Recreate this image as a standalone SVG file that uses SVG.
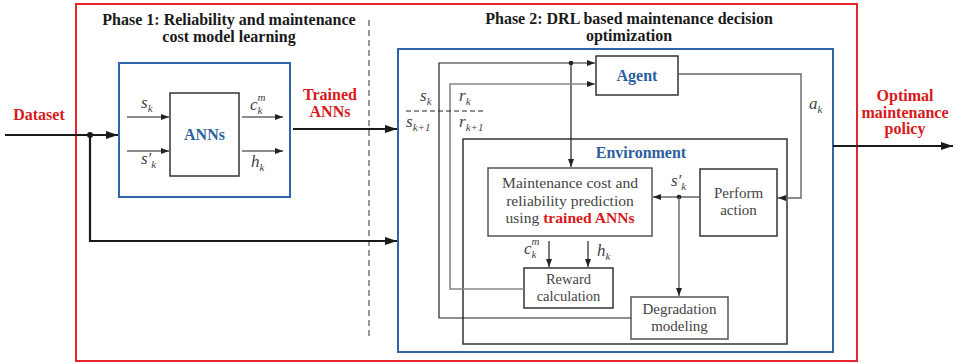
<svg xmlns="http://www.w3.org/2000/svg" width="954" height="363" viewBox="0 0 954 363">
<style>
.title{font-family:"Liberation Serif","DejaVu Serif",serif;font-weight:bold;font-size:16px;fill:#1a1a1a;text-anchor:middle}
.red{font-family:"Liberation Serif","DejaVu Serif",serif;font-weight:bold;font-size:16px;fill:#d71920;text-anchor:middle}
.blue{font-family:"Liberation Serif","DejaVu Serif",serif;font-weight:bold;font-size:16px;fill:#2d5f9e;text-anchor:middle}
.txt{font-family:"Liberation Serif","DejaVu Serif",serif;font-size:15px;fill:#444;text-anchor:middle}
.big{font-size:15.6px}
.sm{font-size:14.5px}
.math{font-family:"Liberation Serif","DejaVu Serif",serif;font-style:italic;font-size:17px;fill:#444}
.sub{font-size:11px}
.box{fill:#fff;stroke:#333;stroke-width:1.5}
.gbox{fill:#fff;stroke:#555;stroke-width:1.5}
.thick{fill:none;stroke:#1a1a1a;stroke-width:2.2}
.thin{fill:none;stroke:#222;stroke-width:1.2}
.gray{fill:none;stroke:#888;stroke-width:1.6}
.mid{fill:none;stroke:#666;stroke-width:1.4}
</style>
<defs>
<marker id="aBig" markerUnits="userSpaceOnUse" markerWidth="12" markerHeight="8" refX="12" refY="4" orient="auto"><path d="M0,0 L12,4 L0,8 z" fill="#1a1a1a"/></marker>
<marker id="aSm" markerUnits="userSpaceOnUse" markerWidth="8" markerHeight="6" refX="8" refY="3" orient="auto"><path d="M0,0 L8,3 L0,6 z" fill="#222"/></marker>
</defs>

<rect x="76" y="4" width="781" height="357" fill="none" stroke="#e8252c" stroke-width="2"/>
<line x1="369" y1="20" x2="369" y2="336" stroke="#555" stroke-width="1.2" stroke-dasharray="6,4"/>

<g id="phase1-title">
<text class="title" x="229" y="25">Phase 1: Reliability and maintenance</text>
<text class="title" x="229" y="42">cost model learning</text>
</g>
<g id="phase2-title">
<text class="title" x="629" y="24">Phase 2: DRL based maintenance decision</text>
<text class="title" x="629" y="41">optimization</text>
</g>

<g id="dataset"><text class="red" x="39" y="120">Dataset</text></g>
<g id="trained-label"><text class="red" x="330" y="100">Trained</text><text class="red" x="330" y="117">ANNs</text></g>
<g id="policy"><text class="red" x="905" y="101">Optimal</text><text class="red" x="905" y="118">maintenance</text><text class="red" x="905" y="134">policy</text></g>

<g id="phase1">
<rect x="119" y="63" width="171" height="134" fill="#fff" stroke="#2e64a8" stroke-width="2"/>
</g>
<g id="anns">
<rect x="170" y="93" width="69" height="83" class="box"/>
<text class="blue" x="204.5" y="140">ANNs</text>
</g>

<g id="phase2">
<rect x="398" y="49" width="435" height="303" fill="#fff" stroke="#2e64a8" stroke-width="2"/>
</g>
<g id="environment">
<rect x="463" y="139" width="324" height="205" fill="none" stroke="#333" stroke-width="1.5"/>
<text class="blue" x="641" y="158">Environment</text>
</g>
<g id="agent">
<rect x="596" y="56" width="82" height="39" class="box"/>
<text class="blue" x="637" y="81">Agent</text>
</g>
<g id="prediction">
<rect x="488" y="168" width="164" height="68" class="gbox"/>
<text class="txt big" x="570" y="188">Maintenance cost and</text>
<text class="txt big" x="570" y="205.5">reliability prediction</text>
<text class="txt big" x="570" y="223">using <tspan style="fill:#d71920;font-weight:bold">trained ANNs</tspan></text>
</g>
<g id="perform">
<rect x="700" y="169" width="77" height="67" class="box"/>
<text class="txt" x="738.5" y="198">Perform</text>
<text class="txt" x="738.5" y="215">action</text>
</g>
<g id="reward">
<rect x="524" y="268" width="89" height="40" class="box"/>
<text class="txt sm" x="568.5" y="284">Reward</text>
<text class="txt sm" x="568.5" y="300.5">calculation</text>
</g>
<g id="degradation">
<rect x="631" y="297" width="97" height="42" class="gbox"/>
<text class="txt" x="679.5" y="314">Degradation</text>
<text class="txt" x="679.5" y="331">modeling</text>
</g>

<g id="connectors">
<path class="thick" d="M5,135 H118" marker-end="url(#aBig)"/>
<path class="thick" d="M90,135 V241 H397" marker-end="url(#aBig)"/>
<circle cx="90" cy="135" r="3" fill="#1a1a1a"/>
<path class="thick" d="M293,129 H397" marker-end="url(#aBig)"/>
<path class="thick" d="M833,146 H953" marker-end="url(#aBig)"/>
<path class="mid" d="M127,117 H169" marker-end="url(#aSm)"/>
<path class="mid" d="M127,151 H169" marker-end="url(#aSm)"/>
<path class="mid" d="M242,117 H283" marker-end="url(#aSm)"/>
<path class="mid" d="M242,151 H283" marker-end="url(#aSm)"/>
<path class="thin" d="M631,318 H439 V63 H595" marker-end="url(#aSm)"/>
<circle cx="571" cy="63" r="2.3" fill="#222"/>
<path class="thin" d="M571,63 V167" marker-end="url(#aSm)"/>
<path class="gray" d="M524,289 H450 V84 H595" marker-end="url(#aSm)"/>
<path class="mid" d="M678,74 H801 V198 H778" marker-end="url(#aSm)"/>
<path class="mid" d="M700,197 H653" marker-end="url(#aSm)"/>
<circle cx="679" cy="197" r="2.3" fill="#222"/>
<path class="mid" d="M679,197 V296" marker-end="url(#aSm)"/>
<path class="thin" d="M549,241 V267" marker-end="url(#aSm)"/>
<path class="thin" d="M588,241 V267" marker-end="url(#aSm)"/>
<line x1="406" y1="111" x2="485" y2="111" stroke="#222" stroke-width="1.2" stroke-dasharray="5,3"/>
</g>

<g id="labels">
<text class="math" x="141" y="108">s<tspan class="sub" dy="4">k</tspan></text>
<text class="math" x="141" y="164">s′<tspan class="sub" dy="4">k</tspan></text>
<text class="math" x="250" y="110">c<tspan class="sub" dy="4">k</tspan><tspan class="sub" dx="-5" dy="-13">m</tspan></text>
<text class="math" x="251" y="167">h<tspan class="sub" dy="4">k</tspan></text>
<text class="math" x="420" y="101">s<tspan class="sub" dy="4">k</tspan></text>
<text class="math" x="459" y="101">r<tspan class="sub" dy="4">k</tspan></text>
<text class="math" x="406" y="127">s<tspan class="sub" dy="4">k+1</tspan></text>
<text class="math" x="459" y="127">r<tspan class="sub" dy="4">k+1</tspan></text>
<text class="math" x="809" y="109">a<tspan class="sub" dy="4">k</tspan></text>
<text class="math" x="671" y="186">s′<tspan class="sub" dy="4">k</tspan></text>
<text class="math" x="524" y="254">c<tspan class="sub" dy="4">k</tspan><tspan class="sub" dx="-5" dy="-13">m</tspan></text>
<text class="math" x="597" y="256">h<tspan class="sub" dy="4">k</tspan></text>
</g>
</svg>
